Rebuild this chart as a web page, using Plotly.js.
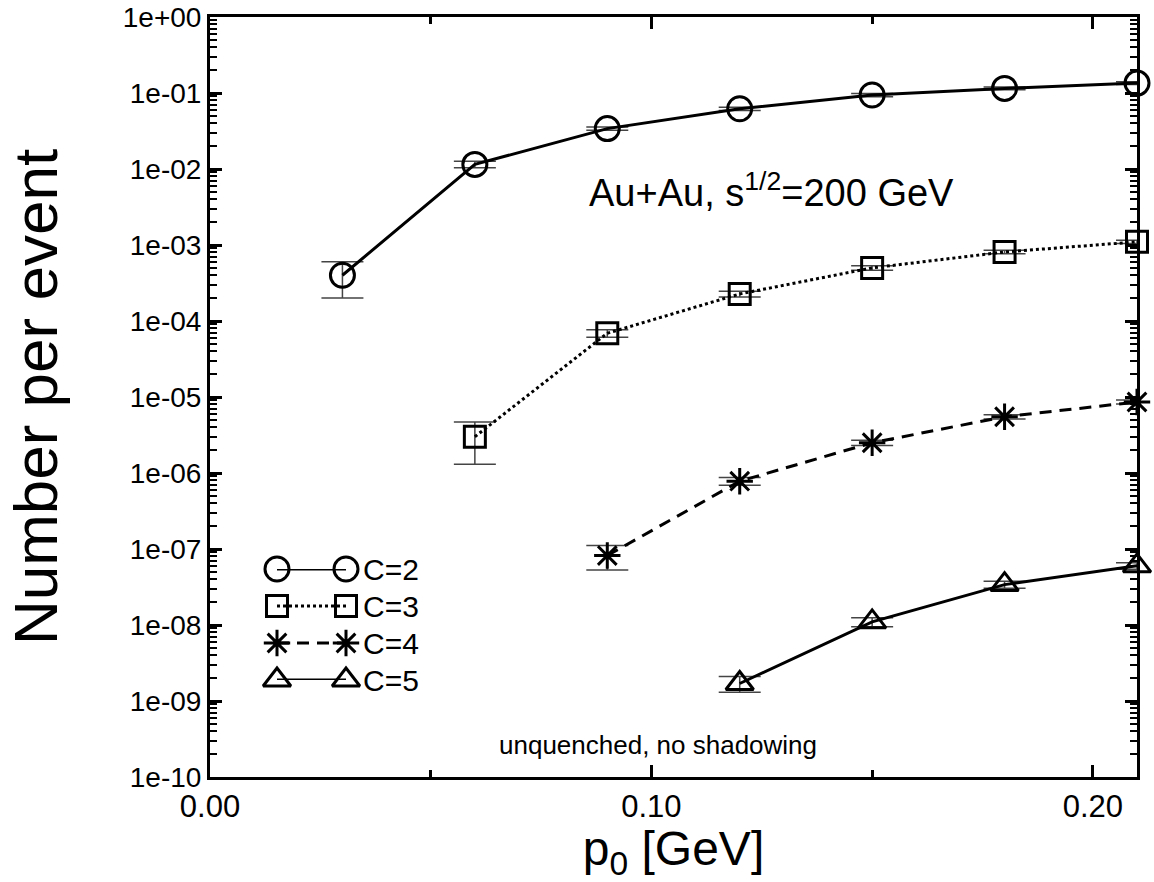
<!DOCTYPE html>
<html>
<head>
<meta charset="utf-8">
<script src="https://cdn.plot.ly/plotly-3.0.1.min.js"></script>
<style>html,body{margin:0;padding:0;background:#fff;}#chart{width:1154px;height:882px;}</style>
</head>
<body>
<div id="chart"></div>
<script>
// ---- data ----
const xC2 = [0.03, 0.06, 0.09, 0.12, 0.15, 0.18, 0.21];
const yC2 = [4.0e-4, 1.15e-2, 3.4e-2, 6.2e-2, 9.4e-2, 0.115, 0.135];
const eC2 = [2.0e-4, 1.15e-3, 1.7e-3, 3.0e-3, 4.5e-3, 5.0e-3, 6.0e-3];

const xC3 = [0.06, 0.09, 0.12, 0.15, 0.18, 0.21];
const yC3 = [3.0e-6, 6.9e-5, 2.27e-4, 5.0e-4, 8.1e-4, 1.1e-3];
const eC3 = [1.7e-6, 8.0e-6, 2.0e-5, 3.5e-5, 4.5e-5, 5.5e-5];

const xC4 = [0.09, 0.12, 0.15, 0.18, 0.21];
const yC4 = [8.2e-8, 7.8e-7, 2.5e-6, 5.5e-6, 8.6e-6];
const eC4 = [2.9e-8, 9.0e-8, 2.0e-7, 3.5e-7, 5.0e-7];

const xC5 = [0.12, 0.15, 0.18, 0.21];
const yC5 = [1.7e-9, 1.1e-8, 3.4e-8, 6.0e-8];
const eC5 = [0.4e-9, 1.5e-9, 3.5e-9, 6.0e-9];

const seriesNames = ['C=2', 'C=3', 'C=4', 'C=5'];

const yTickVals = [1e0, 1e-1, 1e-2, 1e-3, 1e-4, 1e-5, 1e-6, 1e-7, 1e-8, 1e-9, 1e-10];
const yTickText = ['1e+00', '1e-01', '1e-02', '1e-03', '1e-04', '1e-05', '1e-06', '1e-07', '1e-08', '1e-09', '1e-10'];
const xTickVals = [0.0, 0.10, 0.20];
const xTickText = ['0.00', '0.10', '0.20'];
const xMinorVals = [0.05, 0.15];

const annMain = 'Au+Au, s<sup>1/2</sup>=200 GeV';
const annNote = 'unquenched, no shadowing';
const xTitle = 'p<sub>0</sub> [GeV]';
const yTitle = 'Number per event';

// ---- styles ----
const styles = [
  {symbol: 'circle-open', size: 24, dash: 'solid'},
  {symbol: 'square-open', size: 21, dash: 'dot'},
  {symbol: 'asterisk-open', size: 22, dash: '12px,8px'},
  {symbol: 'triangle-up-open', size: 24, dash: 'solid'}
];
const xs = [xC2, xC3, xC4, xC5];
const ys = [yC2, yC3, yC4, yC5];
const es = [eC2, eC3, eC4, eC5];

// minor log ticks 2..9 per decade
const yMinor = [];
for (let d = -10; d < 0; d++) {
  for (let m = 2; m <= 9; m++) yMinor.push(m * Math.pow(10, d));
}

const FAM = 'Liberation Sans, Arial, sans-serif';

const traces = [];
for (let i = 0; i < 4; i++) {
  traces.push({
    type: 'scatter', mode: 'lines+markers',
    x: xs[i], y: ys[i], name: seriesNames[i],
    line: {color: '#000', width: 3, dash: styles[i].dash},
    marker: {symbol: styles[i].symbol, size: styles[i].size, color: '#000', line: {color: '#000', width: 3}},
    error_y: {type: 'data', array: es[i], visible: true, color: '#444', thickness: 1.5, width: 21},
    cliponaxis: false, showlegend: false
  });
}
// legend samples (marker - line - marker) on an overlay axis
const annotations = [];
for (let i = 0; i < 4; i++) {
  traces.push({
    type: 'scatter', mode: 'lines+markers',
    x: [0, 1], y: [i, i], xaxis: 'x2', yaxis: 'y2', name: seriesNames[i],
    line: {color: '#000', width: 3, dash: styles[i].dash},
    marker: {symbol: styles[i].symbol, size: styles[i].size, color: '#000', line: {color: '#000', width: 3}},
    cliponaxis: false, showlegend: false, hoverinfo: 'skip'
  });
  annotations.push({
    xref: 'x2', yref: 'y2', x: 1, y: i, text: seriesNames[i], showarrow: false,
    xanchor: 'left', yanchor: 'middle', xshift: 15,
    font: {family: FAM, size: 30, color: '#000'}
  });
}
annotations.push({
  xref: 'paper', yref: 'paper', x: 0.606, y: 0.772, text: annMain, showarrow: false,
  xanchor: 'center', yanchor: 'middle',
  font: {family: FAM, size: 38, color: '#000'}
});
annotations.push({
  xref: 'paper', yref: 'paper', x: 0.483, y: 0.042, text: annNote, showarrow: false,
  xanchor: 'center', yanchor: 'middle',
  font: {family: FAM, size: 26, color: '#000'}
});

const W = 1154, H = 882;
const mL = 210, mR = 17, mT = 17, mB = 105;
const pw = W - mL - mR, ph = H - mT - mB;
const px2x = p => (p - mL) / pw;
const py2y = p => (H - mB - p) / ph;

const layout = {
  width: W, height: H,
  margin: {l: mL, r: mR, t: mT, b: mB, pad: 0},
  paper_bgcolor: '#fff', plot_bgcolor: '#fff',
  font: {family: FAM, color: '#000'},
  showlegend: false,
  xaxis: {
    range: [0, 0.21], showgrid: false, zeroline: false,
    showline: true, linecolor: '#000', linewidth: 3, mirror: 'ticks',
    ticks: 'inside', ticklen: 12, tickwidth: 3, tickcolor: '#000',
    tickmode: 'array', tickvals: xTickVals, ticktext: xTickText,
    tickfont: {family: FAM, size: 31, color: '#000'},
    minor: {tickmode: 'array', tickvals: xMinorVals, ticks: 'inside', ticklen: 7, tickwidth: 3, tickcolor: '#000', showgrid: false},
    title: {text: xTitle, font: {family: FAM, size: 48, color: '#000'}, standoff: 6}
  },
  yaxis: {
    type: 'log', range: [-10, 0], showgrid: false, zeroline: false,
    showline: true, linecolor: '#000', linewidth: 3, mirror: 'ticks',
    ticks: 'inside', ticklen: 12, tickwidth: 3, tickcolor: '#000',
    tickmode: 'array', tickvals: yTickVals, ticktext: yTickText,
    tickfont: {family: FAM, size: 28, color: '#000'},
    minor: {tickmode: 'array', tickvals: yMinor, ticks: 'inside', ticklen: 7, tickwidth: 2, tickcolor: '#000', showgrid: false},
    title: {text: yTitle, font: {family: FAM, size: 62, color: '#000'}, standoff: 46}
  },
  xaxis2: {
    domain: [px2x(277), px2x(346)], range: [0, 1], anchor: 'y2',
    visible: false, showgrid: false, zeroline: false, fixedrange: true
  },
  yaxis2: {
    domain: [py2y(680), py2y(569)], range: [3, 0], anchor: 'x2',
    visible: false, showgrid: false, zeroline: false, fixedrange: true
  },
  annotations: annotations
};

Plotly.newPlot('chart', traces, layout, {displayModeBar: false, staticPlot: true});
</script>
</body>
</html>
